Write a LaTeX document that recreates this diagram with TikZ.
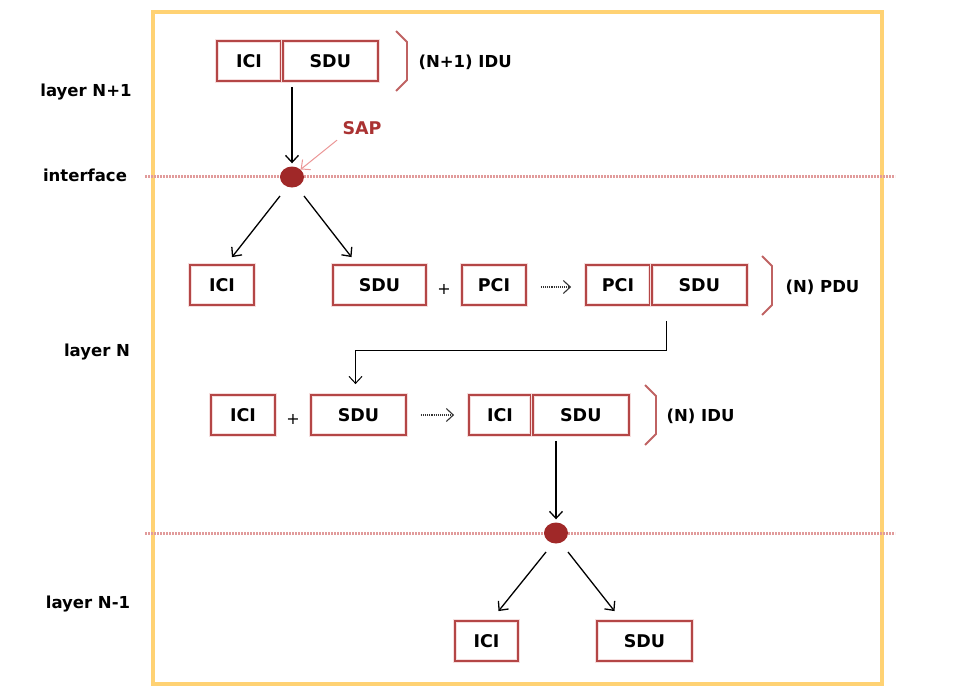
\documentclass[tikz,border=0pt]{standalone}
\usepackage{fontspec}
\setmainfont{DejaVu Sans}
\usetikzlibrary{shapes.geometric, arrows.meta, positioning, calc}
\definecolor{boxred}{RGB}{180,70,70}
\definecolor{halo}{RGB}{246,222,222}
\definecolor{dotred}{RGB}{160,40,40}
\definecolor{linepink}{RGB}{225,155,155}
\definecolor{frameyellow}{RGB}{255,210,115}
\definecolor{sapred}{RGB}{170,50,50}
\definecolor{sappink}{RGB}{235,150,150}
\tikzstyle{unit} = [rectangle, draw=boxred, line width=1.8pt, preaction={draw=halo, line width=3.6pt}, minimum height=40pt, inner sep=0pt, text=black, font=\fontsize{17.5}{17.5}\selectfont\bfseries]
\tikzstyle{layerlabel} = [font=\fontsize{16.5}{16.5}\selectfont\bfseries]
\tikzstyle{pdulabel} = [anchor=west, font=\fontsize{16.5}{16.5}\selectfont\bfseries]
\tikzstyle{plus} = [font=\fontsize{16}{16}\selectfont]
\tikzstyle{sap} = [ellipse, fill=dotred, minimum width=24pt, minimum height=21pt, inner sep=0pt]
\tikzstyle{level} = [linepink, line width=3pt, dash pattern=on 2pt off 1pt]
\tikzstyle{bracket} = [boxred!85, line width=1.8pt]
\tikzstyle{arrow} = [->, >={Straight Barb[length=7pt,width=13pt]}, line width=1.3pt]
\tikzstyle{flow} = [arrow, black!80, line width=1.1pt, densely dotted]

\begin{document}
\begin{tikzpicture}[x=1pt, y=-1pt]
    \useasboundingbox (0,0) rectangle (957,694);
    % frame and layer boundaries
    \draw[frameyellow, line width=3.5pt] (153,12) rectangle (882,684);
    \draw[level] (145,176) -- (895,176);
    \draw[level] (145,533) -- (895,533);

    % layer names
    \node[layerlabel] (lnp1) at (86,92) {layer N+1};
    \node[layerlabel] (lif) at (85,175) {interface};
    \node[layerlabel] (ln) at (97,352) {layer N};
    \node[layerlabel] (lnm1) at (88,604) {layer N-1};

    % (N+1) IDU
    \node[unit, minimum width=64pt] (ici1) at (249,61) {ICI};
    \node[unit, minimum width=95pt, anchor=west] (sdu1) at (ici1.east) {SDU};
    \draw[bracket] (396,31) -- (407,42) -- (407,80) -- (396,91);
    \node[pdulabel] (idu1) at (415,62) {(N+1) IDU};

    % SAP
    \node[sap] (sap1) at (292,177) {};
    \node[font=\fontsize{17.5}{17.5}\selectfont\bfseries, text=sapred] (saplabel) at (362,128) {SAP};
    \draw[arrow, sappink, line width=1pt] ($(saplabel.south west)+(-2,2)$) -- (sap1.north east);
    \draw[arrow, shorten <=5pt, shorten >=3pt] (sap1 |- ici1.south) -- (sap1.north);

    % layer N
    \node[unit, minimum width=64pt] (ici2) at (222,285) {ICI};
    \node[unit, minimum width=93pt] (sdu2) at (379.5,285) {SDU};
    \node[plus] (plus2) at (444,289) {+};
    \node[unit, minimum width=64pt] (pci2) at (494,285) {PCI};
    \node[unit, minimum width=64pt] (pci3) at (618,285) {PCI};
    \node[unit, minimum width=95pt, anchor=west] (sdu3) at (pci3.east) {SDU};
    \draw[flow] ($(pci2.east)+(14,2)$) -- ($(pci3.west)+(-14,2)$);
    \draw[bracket] (762,256) -- (772,266) -- (772,305) -- (762,315);
    \node[pdulabel] (pdu) at (782,287) {(N) PDU};
    \draw[arrow] ($(sap1)+(-12,19)$) -- ($(ici2.north)+(10,-7)$);
    \draw[arrow] ($(sap1)+(12,19)$) -- ($(sdu2.north)+(-28,-7)$);

    \node[unit, minimum width=64pt] (ici4) at (243,415) {ICI};
    \node[plus] (plus4) at (293,419) {+};
    \node[unit, minimum width=95pt] (sdu4) at (358.5,415) {SDU};
    \node[unit, minimum width=62pt] (ici5) at (500,415) {ICI};
    \node[unit, minimum width=96pt, anchor=west] (sdu5) at (ici5.east) {SDU};
    \draw[flow] ($(sdu4.east)+(14,0)$) -- ($(ici5.west)+(-14,0)$);
    \draw[bracket] (645,385) -- (656,396) -- (656,434) -- (645,445);
    \node[pdulabel] (idu5) at (663,416) {(N) IDU};
    \draw[arrow, line width=1pt] ($(sdu3.south west)+(16,15)$) -- ++(0,30) -| ($(sdu4.north)+(-3,-10)$);

    % layer N-1
    \node[sap] (sap2) at (556,533) {};
    \draw[arrow, shorten <=5pt, shorten >=3pt] (sap2 |- sdu5.south) -- (sap2.north);
    \node[unit, minimum width=63pt] (ici6) at (486.5,641) {ICI};
    \node[unit, minimum width=95pt] (sdu6) at (644.5,641) {SDU};
    \draw[arrow] ($(sap2)+(-10,19)$) -- ($(ici6.north)+(12,-9)$);
    \draw[arrow] ($(sap2)+(12,19)$) -- ($(sdu6.north)+(-30,-9)$);
\end{tikzpicture}
\end{document}
